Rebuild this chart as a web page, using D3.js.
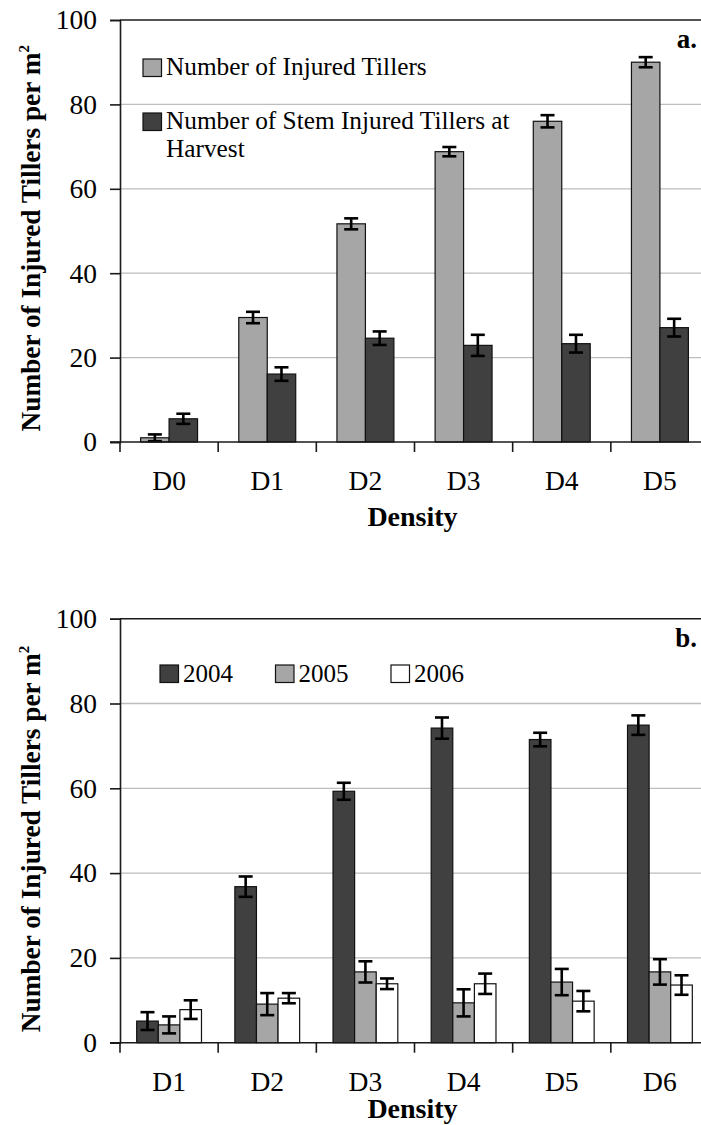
<!DOCTYPE html>
<html>
<head>
<meta charset="utf-8">
<script src="https://cdn.jsdelivr.net/npm/d3@7"></script>
<style>
  html, body { margin: 0; padding: 0; background: #fff; }
  svg { display: block; }
  svg text { font-family: "Times New Roman", Times, "Liberation Serif", "DejaVu Serif", serif; fill: #000; }
</style>
</head>
<body>
<svg id="chart" width="701" height="1125"></svg>
<script>
// Panel a: injured tillers by density
const catsA = ["D0", "D1", "D2", "D3", "D4", "D5"];
const seriesA = ["Number of Injured Tillers", "Number of Stem Injured Tillers at Harvest"];
const injured = [1.0, 29.5, 51.7, 68.8, 76.0, 90.0];
const injuredErr = [0.8, 1.35, 1.3, 1.1, 1.45, 1.2];
const stemInjured = [5.5, 16.1, 24.6, 22.9, 23.3, 27.1];
const stemInjuredErr = [1.2, 1.6, 1.6, 2.5, 2.1, 2.1];

// Panel b: injured tillers by density and year
const catsB = ["D1", "D2", "D3", "D4", "D5", "D6"];
const seriesB = ["2004", "2005", "2006"];
const y2004 = [5.1, 36.8, 59.3, 74.2, 71.5, 74.9];
const y2004Err = [2.1, 2.4, 2.0, 2.5, 1.6, 2.3];
const y2005 = [4.2, 9.1, 16.7, 9.4, 14.3, 16.7];
const y2005Err = [2.0, 2.6, 2.5, 3.2, 3.1, 3.0];
const y2006 = [7.8, 10.5, 13.9, 13.9, 9.8, 13.6];
const y2006Err = [2.2, 1.2, 1.25, 2.4, 2.4, 2.3];

const yTicks = [0, 20, 40, 60, 80, 100];

const FONT = '"Times New Roman", Times, "Liberation Serif", "DejaVu Serif", serif';
const svg = d3.select("#chart");

function drawPanel(opts) {
  const { cats, series, values, errors, colors, top, bottom, left, right, groupFrac, tag, titleY } = opts;
  const g = svg.append("g");

  const x = d3.scaleBand().domain(cats).range([left, right]).padding(0);
  const bw = x.bandwidth();
  const groupW = bw * groupFrac;
  const xi = d3.scaleBand().domain(series).range([(bw - groupW) / 2, (bw + groupW) / 2]).padding(0);
  const y = d3.scaleLinear().domain([0, 100]).range([bottom, top]);

  // gridlines (the 100 line doubles as the top border)
  g.append("g").selectAll("line").data(yTicks.filter(t => t > 0)).join("line")
    .attr("x1", left).attr("x2", right)
    .attr("y1", d => y(d)).attr("y2", d => y(d))
    .attr("stroke", d => d === 100 ? "#1a1a1a" : "#bdbdbd")
    .attr("stroke-width", d => d === 100 ? 1.6 : 1.3);

  // bars
  series.forEach((s, si) => {
    g.append("g").selectAll("rect").data(values[si]).join("rect")
      .attr("x", (d, i) => x(cats[i]) + xi(s))
      .attr("y", d => y(d))
      .attr("width", xi.bandwidth())
      .attr("height", d => y(0) - y(d))
      .attr("fill", colors[si])
      .attr("stroke", "#111")
      .attr("stroke-width", 1.2);
  });

  // error bars
  series.forEach((s, si) => {
    const eg = g.append("g").attr("stroke", "#000").attr("stroke-width", 2.6).attr("fill", "none");
    values[si].forEach((v, i) => {
      const cx = x(cats[i]) + xi(s) + xi.bandwidth() / 2;
      const e = errors[si][i];
      const hw = 7;
      eg.append("line").attr("x1", cx).attr("x2", cx).attr("y1", y(v + e)).attr("y2", y(v - e));
      eg.append("line").attr("x1", cx - hw).attr("x2", cx + hw).attr("y1", y(v + e)).attr("y2", y(v + e));
      eg.append("line").attr("x1", cx - hw).attr("x2", cx + hw).attr("y1", y(v - e)).attr("y2", y(v - e));
    });
  });

  // y axis
  const yAxis = d3.axisLeft(y).tickValues(yTicks).tickSize(10).tickPadding(13).tickFormat(d3.format("d"));
  const ya = g.append("g").attr("transform", `translate(${left},0)`).call(yAxis)
    .attr("font-family", FONT).attr("font-size", 27.5);
  ya.select(".domain").attr("stroke", "#1a1a1a").attr("stroke-width", 1.6);
  ya.selectAll(".tick line").attr("stroke", "#1a1a1a").attr("stroke-width", 1.6);
  ya.selectAll(".tick text").attr("fill", "#000");

  // x axis with ticks at category boundaries
  const xa = g.append("g").attr("transform", `translate(0,${bottom})`);
  xa.append("line").attr("x1", left - 10).attr("x2", right).attr("y1", 0).attr("y2", 0)
    .attr("stroke", "#1a1a1a").attr("stroke-width", 1.6);
  xa.selectAll("line.tk").data(cats).join("line").attr("class", "tk")
    .attr("x1", d => x(d)).attr("x2", d => x(d)).attr("y1", 0).attr("y2", 10)
    .attr("stroke", "#1a1a1a").attr("stroke-width", 1.6);
  xa.selectAll("text").data(cats).join("text")
    .attr("x", d => x(d) + bw / 2).attr("y", 48)
    .attr("text-anchor", "middle").attr("font-size", 27.5).text(d => d);

  // axis titles
  g.append("text").attr("x", (left + right) / 2 - 2).attr("y", titleY)
    .attr("text-anchor", "middle").attr("font-size", 28).attr("font-weight", "bold").text("Density");

  const yt = g.append("text")
    .attr("transform", `translate(40,${bottom - 10.5}) rotate(-90)`)
    .attr("text-anchor", "start").attr("font-size", 27.3).attr("font-weight", "bold");
  yt.append("tspan").text("Number of Injured Tillers per m");
  yt.append("tspan").attr("dy", -11).attr("font-size", 15).text("2");

  // panel tag
  g.append("text").attr("x", 697).attr("y", top + 28).attr("text-anchor", "end")
    .attr("font-size", 27).attr("font-weight", "bold").text(tag);

  return g;
}

const gA = drawPanel({
  cats: catsA, series: seriesA,
  values: [injured, stemInjured], errors: [injuredErr, stemInjuredErr],
  colors: ["#a6a6a6", "#404040"],
  top: 20, bottom: 442, left: 120, right: 709, groupFrac: 0.58, tag: "a.", titleY: 526
});

const gB = drawPanel({
  cats: catsB, series: seriesB,
  values: [y2004, y2005, y2006], errors: [y2004Err, y2005Err, y2006Err],
  colors: ["#404040", "#a6a6a6", "#ffffff"],
  top: 618.7, bottom: 1042.7, left: 120, right: 709, groupFrac: 0.66, tag: "b.", titleY: 1118
});

// legend, panel a (stacked; second entry wraps onto two lines)
const legA = gA.append("g");
const legAColors = ["#a6a6a6", "#404040"];
const legAY = [59, 113];
const legALines = [["Number of Injured Tillers"], ["Number of Stem Injured Tillers at", "Harvest"]];
seriesA.forEach((s, i) => {
  legA.append("rect").attr("x", 143).attr("y", legAY[i]).attr("width", 18.5).attr("height", 17.5)
    .attr("fill", legAColors[i]).attr("stroke", "#111").attr("stroke-width", 1.2);
  const t = legA.append("text").attr("x", 166).attr("y", legAY[i] + 16).attr("font-size", 25.3);
  legALines[i].forEach((line, li) => {
    t.append("tspan").attr("x", 166).attr("dy", li === 0 ? 0 : 28.3).text(line);
  });
});

// legend, panel b (in a row)
const legB = gB.append("g");
const legBColors = ["#404040", "#a6a6a6", "#ffffff"];
const legBX = [160, 275.5, 391];
seriesB.forEach((s, i) => {
  legB.append("rect").attr("x", legBX[i]).attr("y", 665).attr("width", 18.5).attr("height", 17.5)
    .attr("fill", legBColors[i]).attr("stroke", "#111").attr("stroke-width", 1.2);
  legB.append("text").attr("x", legBX[i] + 23).attr("y", 682).attr("font-size", 25).text(s);
});
</script>
</body>
</html>
